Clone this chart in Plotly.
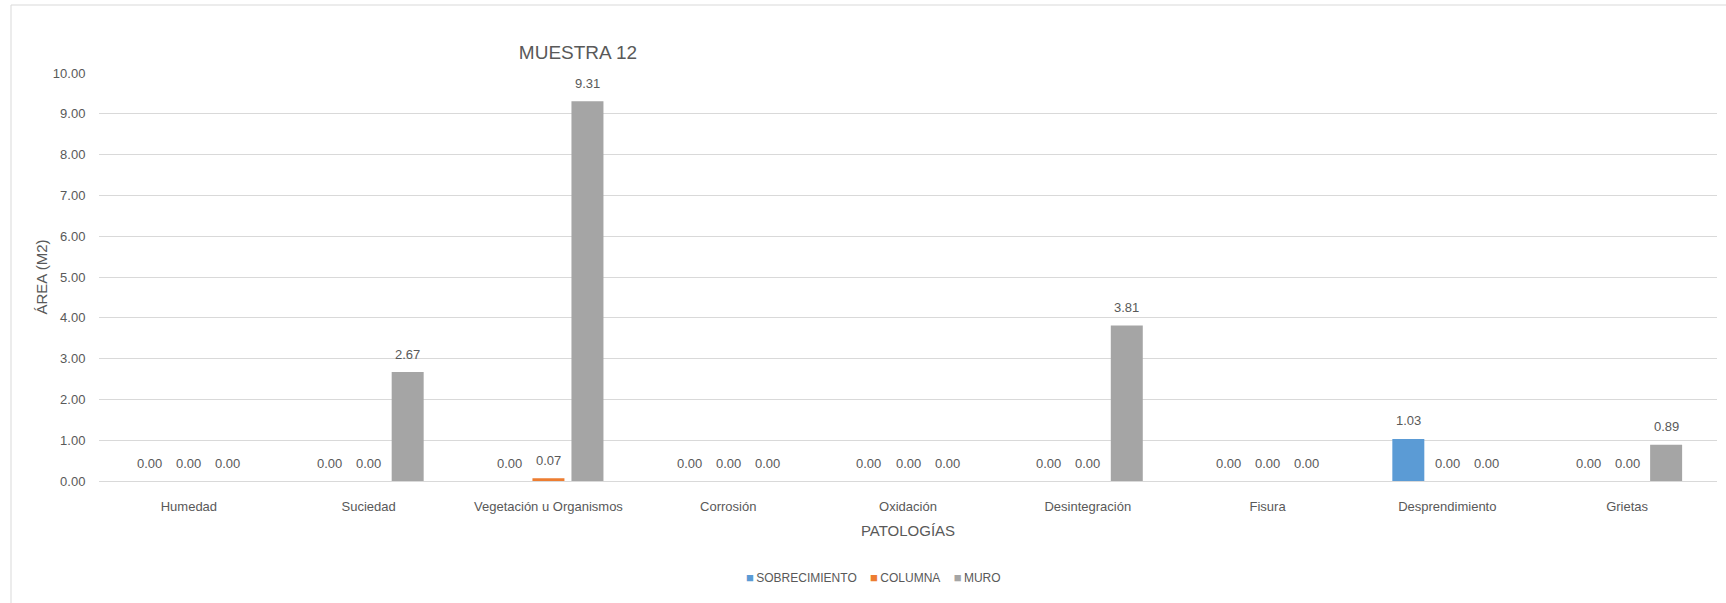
import plotly.graph_objects as go

categories = ["Humedad", "Suciedad", "Vegetación u Organismos", "Corrosión", "Oxidación",
              "Desintegración", "Fisura", "Desprendimiento", "Grietas"]
series_names = ["SOBRECIMIENTO", "COLUMNA", "MURO"]
sobrecimiento = [0.00, 0.00, 0.00, 0.00, 0.00, 0.00, 0.00, 1.03, 0.00]
columna = [0.00, 0.00, 0.07, 0.00, 0.00, 0.00, 0.00, 0.00, 0.00]
muro = [0.00, 2.67, 9.31, 0.00, 0.00, 3.81, 0.00, 0.00, 0.89]
y_ticks = [0, 1, 2, 3, 4, 5, 6, 7, 8, 9, 10]

series_values = [sobrecimiento, columna, muro]
colors = ["#5B9BD5", "#ED7D31", "#A5A5A5"]

FONT = "Liberation Sans, Arial, sans-serif"
TXT = "#595959"
W, H = 1726, 603
L, R, T, B = 99, 9, 73, 122
BARGAP = 0.349
BARGROUPGAP = 0.18

fig = go.Figure()
for name, vals, col in zip(series_names, series_values, colors):
    fig.add_trace(go.Bar(
        x=categories, y=vals, name=name, marker=dict(color=col, line=dict(width=0)),
        hoverinfo="x+y+name", showlegend=False,
    ))

# data labels above bars (Excel "outside end" style)
slot = (1 - BARGAP) / len(series_names)
annotations = []
for j, vals in enumerate(series_values):
    for i, v in enumerate(vals):
        annotations.append(dict(
            x=i + (j - (len(series_names) - 1) / 2) * slot, y=v, xref="x", yref="y",
            text=f"{v:.2f}", showarrow=False, yanchor="middle", yshift=18,
            font=dict(family=FONT, size=13, color=TXT),
        ))

plot_w = W - L - R
plot_h = H - T - B

# compact Excel-style legend (small coloured squares right next to the names)
gap = "\u00a0" * 4
legend_text = gap.join(
    f"<span style='color:{c};font-size:13px'>■</span>\u2009{n}" for n, c in zip(series_names, colors)
)
annotations.append(dict(
    x=(873 - L) / plot_w, y=(H - B - 577) / plot_h, xref="paper", yref="paper", xanchor="center",
    yanchor="middle", text=legend_text, showarrow=False,
    font=dict(family=FONT, size=12, color=TXT),
))

fig.update_layout(
    width=W, height=H,
    margin=dict(l=L, r=R, t=T, b=B),
    paper_bgcolor="white", plot_bgcolor="white",
    barmode="group", bargap=BARGAP, bargroupgap=BARGROUPGAP,
    font=dict(family=FONT, size=13, color=TXT),
    title=dict(text="MUESTRA 12", x=578 / W, xanchor="center", y=1 - 52 / H, yanchor="middle",
               font=dict(family=FONT, size=19, color=TXT)),
    showlegend=False,
    annotations=annotations,
    shapes=[dict(type="rect", xref="paper", yref="paper",
                 x0=(11 - L) / plot_w, x1=(W + 5 - L) / plot_w,
                 y0=(H - B - (H + 5)) / plot_h, y1=(H - B - 5) / plot_h,
                 line=dict(color="#D9D9D9", width=1), fillcolor="rgba(0,0,0,0)", layer="below")],
)
fig.update_xaxes(
    type="category", showgrid=False, showline=True, linecolor="#D9D9D9", linewidth=1,
    ticks="outside", ticklen=13, tickcolor="rgba(0,0,0,0)",
    tickfont=dict(family=FONT, size=13, color=TXT),
    title=dict(text="PATOLOGÍAS", standoff=12, font=dict(family=FONT, size=15, color=TXT)),
)
fig.update_yaxes(
    range=[0, 10], tickvals=y_ticks, tickformat=".2f",
    showgrid=True, gridcolor="#D9D9D9", gridwidth=1, zeroline=False,
    showline=False, ticks="outside", ticklen=10, tickcolor="rgba(0,0,0,0)",
    tickfont=dict(family=FONT, size=13, color=TXT),
    title=dict(text="ÁREA (M2)", standoff=1, font=dict(family=FONT, size=15, color=TXT)),
)

fig.write_html("out.html", config={"displayModeBar": False},
               post_script="document.body.style.margin='0';document.body.style.overflow='hidden';")
